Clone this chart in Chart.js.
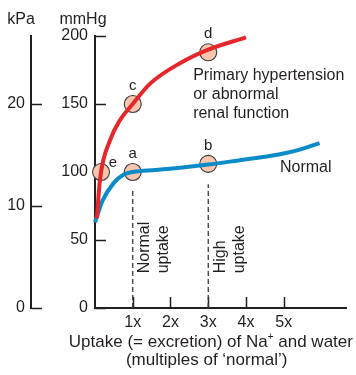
<!DOCTYPE html>
<html>
<head>
<meta charset="utf-8">
<script src="https://cdn.jsdelivr.net/npm/chart.js@4.4.1/dist/chart.umd.min.js"></script>
<style>
  html, body { margin: 0; padding: 0; background: #fff; }
  #wrap { width: 356px; height: 375px; }
</style>
</head>
<body>
<div id="wrap"><canvas id="pressureChart" width="356" height="375"></canvas></div>
<script>
// Arterial pressure against Na+/water uptake, normal vs. hypertensive kidney
const xTicks = [1, 2, 3, 4, 5];
const mmHgTicks = [0, 50, 100, 150, 200];
const kPaTicks = [0, 10, 20];
const MMHG_PER_KPA = 7.50062;

const normalX = [0, 0.2, 0.5, 0.75, 1, 1.6, 2.2, 3, 3.8, 4.4, 4.9, 5.4, 5.95];
const normalY = [63, 79, 92, 98, 100, 101.5, 103, 105.5, 108.5, 110.8, 113, 116.3, 121.3];

const hyperX = [0.05, 0.13, 0.4, 0.66, 1, 1.46, 2.25, 3, 4];
const hyperY = [66, 94, 123.5, 138, 150, 165, 180, 190, 199];

const markerNames = ['a', 'b', 'c', 'd', 'e'];
const markerX = [1, 3, 1, 3, 0.16];
const markerY = [100, 106, 150, 188, 100];

const uptakeX = [1, 3];
const uptakeTop = [87, 91];
const uptakeText = [['Normal', 'uptake'], ['High', 'uptake']];

const FONT = "'Liberation Sans', Arial, Helvetica, sans-serif";
const INK = '#231f20';
const RED = '#e5262b';
const BLUE = '#0b8bc8';

const toPoints = (xs, ys) => xs.map((v, i) => ({ x: v, y: ys[i] }));

// inward tick marks, letters, curve captions and the axis titles
const annotations = {
    id: 'annotations',
    beforeDatasetsDraw(chart) {
        const { ctx, scales: { x, y, yk } } = chart;
        ctx.save();
        ctx.strokeStyle = INK;
        ctx.lineWidth = 1.5;
        ctx.beginPath();
        mmHgTicks.forEach(v => {
            const py = Math.round(y.getPixelForValue(v)) + 0.5;
            ctx.moveTo(y.right, py); ctx.lineTo(y.right + 11, py);
        });
        kPaTicks.forEach(v => {
            const py = Math.round(yk.getPixelForValue(v)) + 0.5;
            ctx.moveTo(yk.right, py); ctx.lineTo(yk.right + 11, py);
        });
        xTicks.forEach(v => {
            const px = Math.round(x.getPixelForValue(v)) + 0.5;
            ctx.moveTo(px, x.top); ctx.lineTo(px, x.top - 11);
        });
        ctx.stroke();
        ctx.restore();
    },
    afterDatasetsDraw(chart) {
        const { ctx, scales: { x, y, yk } } = chart;
        ctx.save();
        ctx.fillStyle = INK;
        ctx.textBaseline = 'middle';
        ctx.textAlign = 'center';
        ctx.font = '15px ' + FONT;

        // letters above the circles ('e' sits to the upper right)
        markerNames.forEach((name, i) => {
            const px = x.getPixelForValue(markerX[i]);
            const py = y.getPixelForValue(markerY[i]);
            if (name === 'e') ctx.fillText(name, px + 12, py - 9);
            else ctx.fillText(name, px, py - 18);
        });

        ctx.textBaseline = 'alphabetic';
        ctx.textAlign = 'left';
        ctx.font = '16px ' + FONT;
        const hx = x.getPixelForValue(2.6), hy = y.getPixelForValue(168);
        ['Primary hypertension', 'or abnormal', 'renal function'].forEach((t, i) => {
            ctx.fillText(t, hx, hy + i * 19);
        });
        ctx.fillText('Normal', x.getPixelForValue(4.9), y.getPixelForValue(100));

        // rotated notes beside the dashed uptake lines
        uptakeX.forEach((v, i) => {
            ctx.save();
            ctx.translate(x.getPixelForValue(v), y.getPixelForValue(25.5));
            ctx.rotate(-Math.PI / 2);
            ctx.fillText(uptakeText[i][0], 0, 16.5);
            ctx.fillText(uptakeText[i][1], 0, 35.5);
            ctx.restore();
        });

        // unit headers
        ctx.textAlign = 'center';
        ctx.fillText('kPa', yk.right - 10, y.top - 12);
        ctx.fillText('mmHg', y.right - 12, y.top - 12);

        // x axis title with superscript +
        const line1a = 'Uptake (= excretion) of Na';
        const line1b = ' and water';
        ctx.textAlign = 'left';
        ctx.font = '17px ' + FONT;
        const wa = ctx.measureText(line1a).width;
        const wb = ctx.measureText(line1b).width;
        ctx.font = '10px ' + FONT;
        const wp = ctx.measureText('+').width;
        const total = wa + wp + wb;
        const cx = x.getPixelForValue(3.07);
        const by = x.top + 38.5;
        const sx = cx - total / 2;
        ctx.font = '17px ' + FONT;
        ctx.fillText(line1a, sx, by);
        ctx.font = '10px ' + FONT;
        ctx.fillText('+', sx + wa, by - 7);
        ctx.font = '17px ' + FONT;
        ctx.fillText(line1b, sx + wa + wp, by);
        ctx.textAlign = 'center';
        ctx.fillText('(multiples of \u2018normal\u2019)', x.getPixelForValue(2.96), by + 18.5);
        ctx.restore();
    }
};

const datasets = [
    {
        label: 'Primary hypertension or abnormal renal function',
        data: toPoints(hyperX, hyperY),
        borderColor: RED,
        borderWidth: 4,
        pointRadius: 0,
        cubicInterpolationMode: 'monotone',
        order: 0
    },
    {
        label: 'Normal',
        data: toPoints(normalX, normalY),
        borderColor: BLUE,
        borderWidth: 4,
        pointRadius: 0,
        cubicInterpolationMode: 'monotone',
        order: 0
    },
    ...uptakeX.map((v, i) => ({
        label: uptakeText[i].join(' '),
        data: [{ x: v, y: 0 }, { x: v, y: uptakeTop[i] }],
        borderColor: '#3a3a3a',
        borderWidth: 1.3,
        borderDash: [5, 3],
        pointRadius: 0,
        order: 3
    })),
    {
        type: 'scatter',
        label: 'markers',
        data: toPoints(markerX, markerY),
        showLine: false,
        pointRadius: 8.5,
        pointHoverRadius: 8.5,
        backgroundColor: '#f8c6ae',
        borderColor: '#3c3c3c',
        borderWidth: 1.1,
        order: 1
    }
];

const tickFont = { family: FONT, size: 16 };

new Chart(document.getElementById('pressureChart'), {
    type: 'line',
    data: { datasets },
    options: {
        responsive: false,
        devicePixelRatio: 1,
        animation: false,
        events: [],
        datasets: { line: { clip: false }, scatter: { clip: false } },
        layout: { padding: { top: 36, right: 9, left: 0, bottom: 0 } },
        plugins: { legend: { display: false }, tooltip: { enabled: false } },
        scales: {
            x: {
                type: 'linear',
                position: 'bottom',
                min: 0,
                max: 6.66,
                afterBuildTicks: s => { s.ticks = xTicks.map(v => ({ value: v })); },
                afterFit: s => { s.height = 67; },
                ticks: { font: tickFont, color: INK, padding: 5, maxRotation: 0, callback: v => v + 'x' },
                grid: { display: false, drawTicks: false },
                border: { display: true, color: INK, width: 2 }
            },
            y: {
                position: 'left',
                weight: 0,
                min: 0,
                max: 200,
                afterBuildTicks: s => { s.ticks = mmHgTicks.map(v => ({ value: v })); },
                afterFit: s => { s.width = 64; },
                ticks: { font: tickFont, color: INK, padding: 7 },
                grid: { display: false, drawTicks: false },
                border: { display: true, color: INK, width: 2 }
            },
            yk: {
                position: 'left',
                weight: 1,
                min: 0,
                max: 200 / MMHG_PER_KPA,
                afterBuildTicks: s => { s.ticks = kPaTicks.map(v => ({ value: v })); },
                afterFit: s => { s.width = 31; },
                ticks: { font: tickFont, color: INK, padding: 6 },
                grid: { display: false, drawTicks: false },
                border: { display: true, color: INK, width: 2 }
            }
        }
    },
    plugins: [annotations]
});
</script>
</body>
</html>
